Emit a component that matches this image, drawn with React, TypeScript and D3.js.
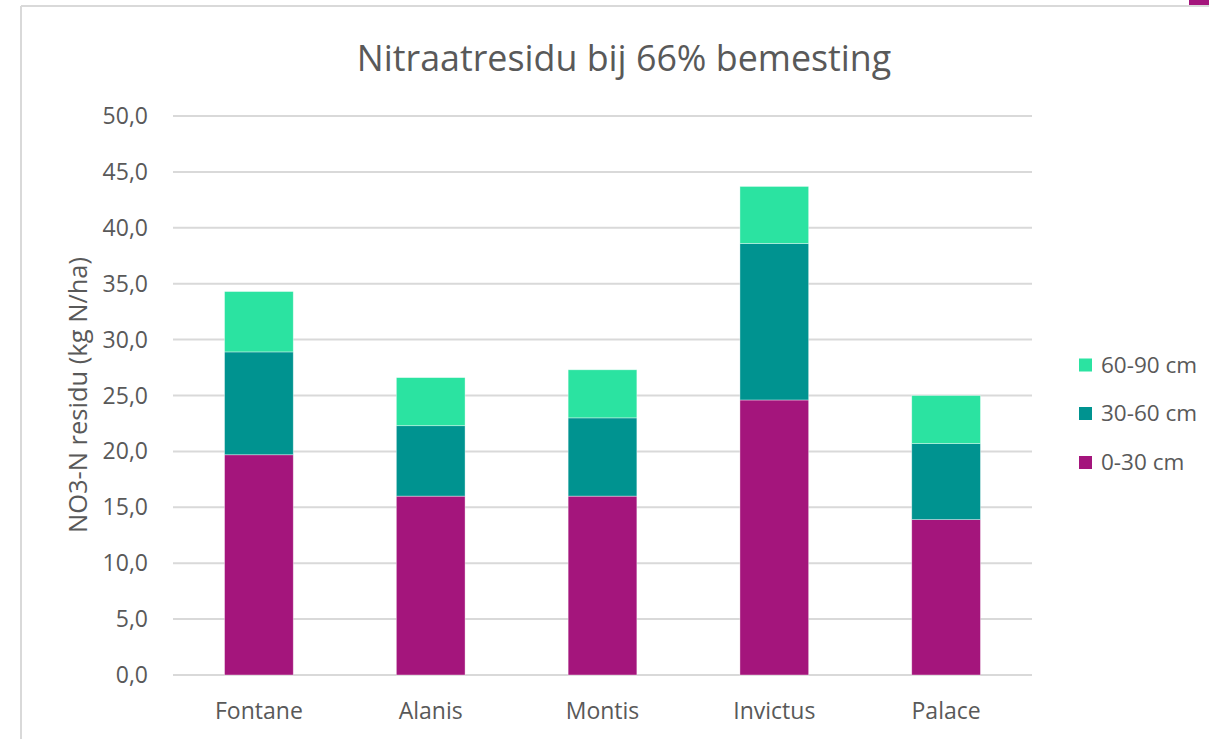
import React from "react";
import * as d3 from "d3";

const categories = ["Fontane", "Alanis", "Montis", "Invictus", "Palace"];
const seriesNames = ["0-30 cm", "30-60 cm", "60-90 cm"];
const values0_30 = [19.7, 16.0, 16.0, 24.6, 13.9];
const values30_60 = [9.2, 6.3, 7.0, 14.0, 6.8];
const values60_90 = [5.4, 4.3, 4.3, 5.1, 4.3];
const seriesColors = ["#A4157C", "#009390", "#2BE3A1"];
const yTicks = [0, 5, 10, 15, 20, 25, 30, 35, 40, 45, 50];

const W = 1209;
const H = 739;
const M = { left: 173, right: 1032, top: 116, bottom: 675 };
const FONT = "'Open Sans', 'Noto Sans', sans-serif";
const TXT = "#595959";

export default function App() {
  const x = d3.scaleBand<string>().domain(categories).range([M.left, M.right]).paddingInner(0.6).paddingOuter(0.3);
  const y = d3.scaleLinear().domain([0, 50]).range([M.bottom, M.top]);

  const rows = categories.map((c, i) => ({
    cat: c,
    s0: values0_30[i],
    s1: values30_60[i],
    s2: values60_90[i],
  }));
  const stack = d3.stack<any>().keys(["s0", "s1", "s2"]);
  const stacked = stack(rows);

  const legendOrder = [2, 1, 0];
  const legendY = [365, 413.5, 462.5];

  return (
    <svg width={W} height={H} style={{ position: "absolute", left: 0, top: 0, background: "#fff" }}>
      <rect x={0} y={0} width={W} height={H} fill="#fff" />
      {/* frame */}
      <line x1={21} y1={6} x2={W} y2={6} stroke="#d9d9d9" strokeWidth={2} />
      <line x1={21} y1={6} x2={21} y2={H} stroke="#d9d9d9" strokeWidth={2} />
      <rect x={1189} y={0} width={20} height={5} fill="#A4157C" />

      {/* title */}
      <text x={624} y={58} dy="0.35em" textAnchor="middle" fontFamily={FONT} fontSize={35.8} fill={TXT}>
        Nitraatresidu bij 66% bemesting
      </text>

      {/* gridlines */}
      {yTicks.map((t) => (
        <g key={t}>
          <line x1={M.left} x2={M.right} y1={y(t)} y2={y(t)} stroke="#d9d9d9" strokeWidth={2} />
          <text x={148} y={y(t)} dy="0.35em" textAnchor="end" fontFamily={FONT} fontSize={23} fill={TXT}>
            {t.toFixed(1).replace(".", ",")}
          </text>
        </g>
      ))}

      {/* bars */}
      {stacked.map((layer, si) => (
        <g key={si}>
          {layer.map((d: any, i: number) => (
            <rect
              key={i}
              x={x(d.data.cat)}
              width={x.bandwidth()}
              y={y(d[1])}
              height={y(d[0]) - y(d[1])}
              fill={seriesColors[si]}
              stroke="#ffffff"
              strokeOpacity={0.5}
              strokeWidth={0.75}
            />
          ))}
        </g>
      ))}

      {/* category labels */}
      {categories.map((c) => (
        <text
          key={c}
          x={(x(c) as number) + x.bandwidth() / 2}
          y={711}
          dy="0.35em"
          textAnchor="middle"
          fontFamily={FONT}
          fontSize={23}
          fill={TXT}
        >
          {c}
        </text>
      ))}

      {/* y axis title */}
      <text
        transform={`translate(78,395) rotate(-90)`}
        textAnchor="middle"
        dy="0.35em"
        fontFamily={FONT}
        fontSize={25.5}
        fill={TXT}
      >
        NO3-N residu (kg N/ha)
      </text>

      {/* legend */}
      {legendOrder.map((si, k) => (
        <g key={si}>
          <rect x={1079} y={legendY[k] - 6.5} width={13} height={13} fill={seriesColors[si]} />
          <text x={1101} y={legendY[k]} dy="0.35em" fontFamily={FONT} fontSize={22.5} fill={TXT}>
            {seriesNames[si]}
          </text>
        </g>
      ))}
    </svg>
  );
}
